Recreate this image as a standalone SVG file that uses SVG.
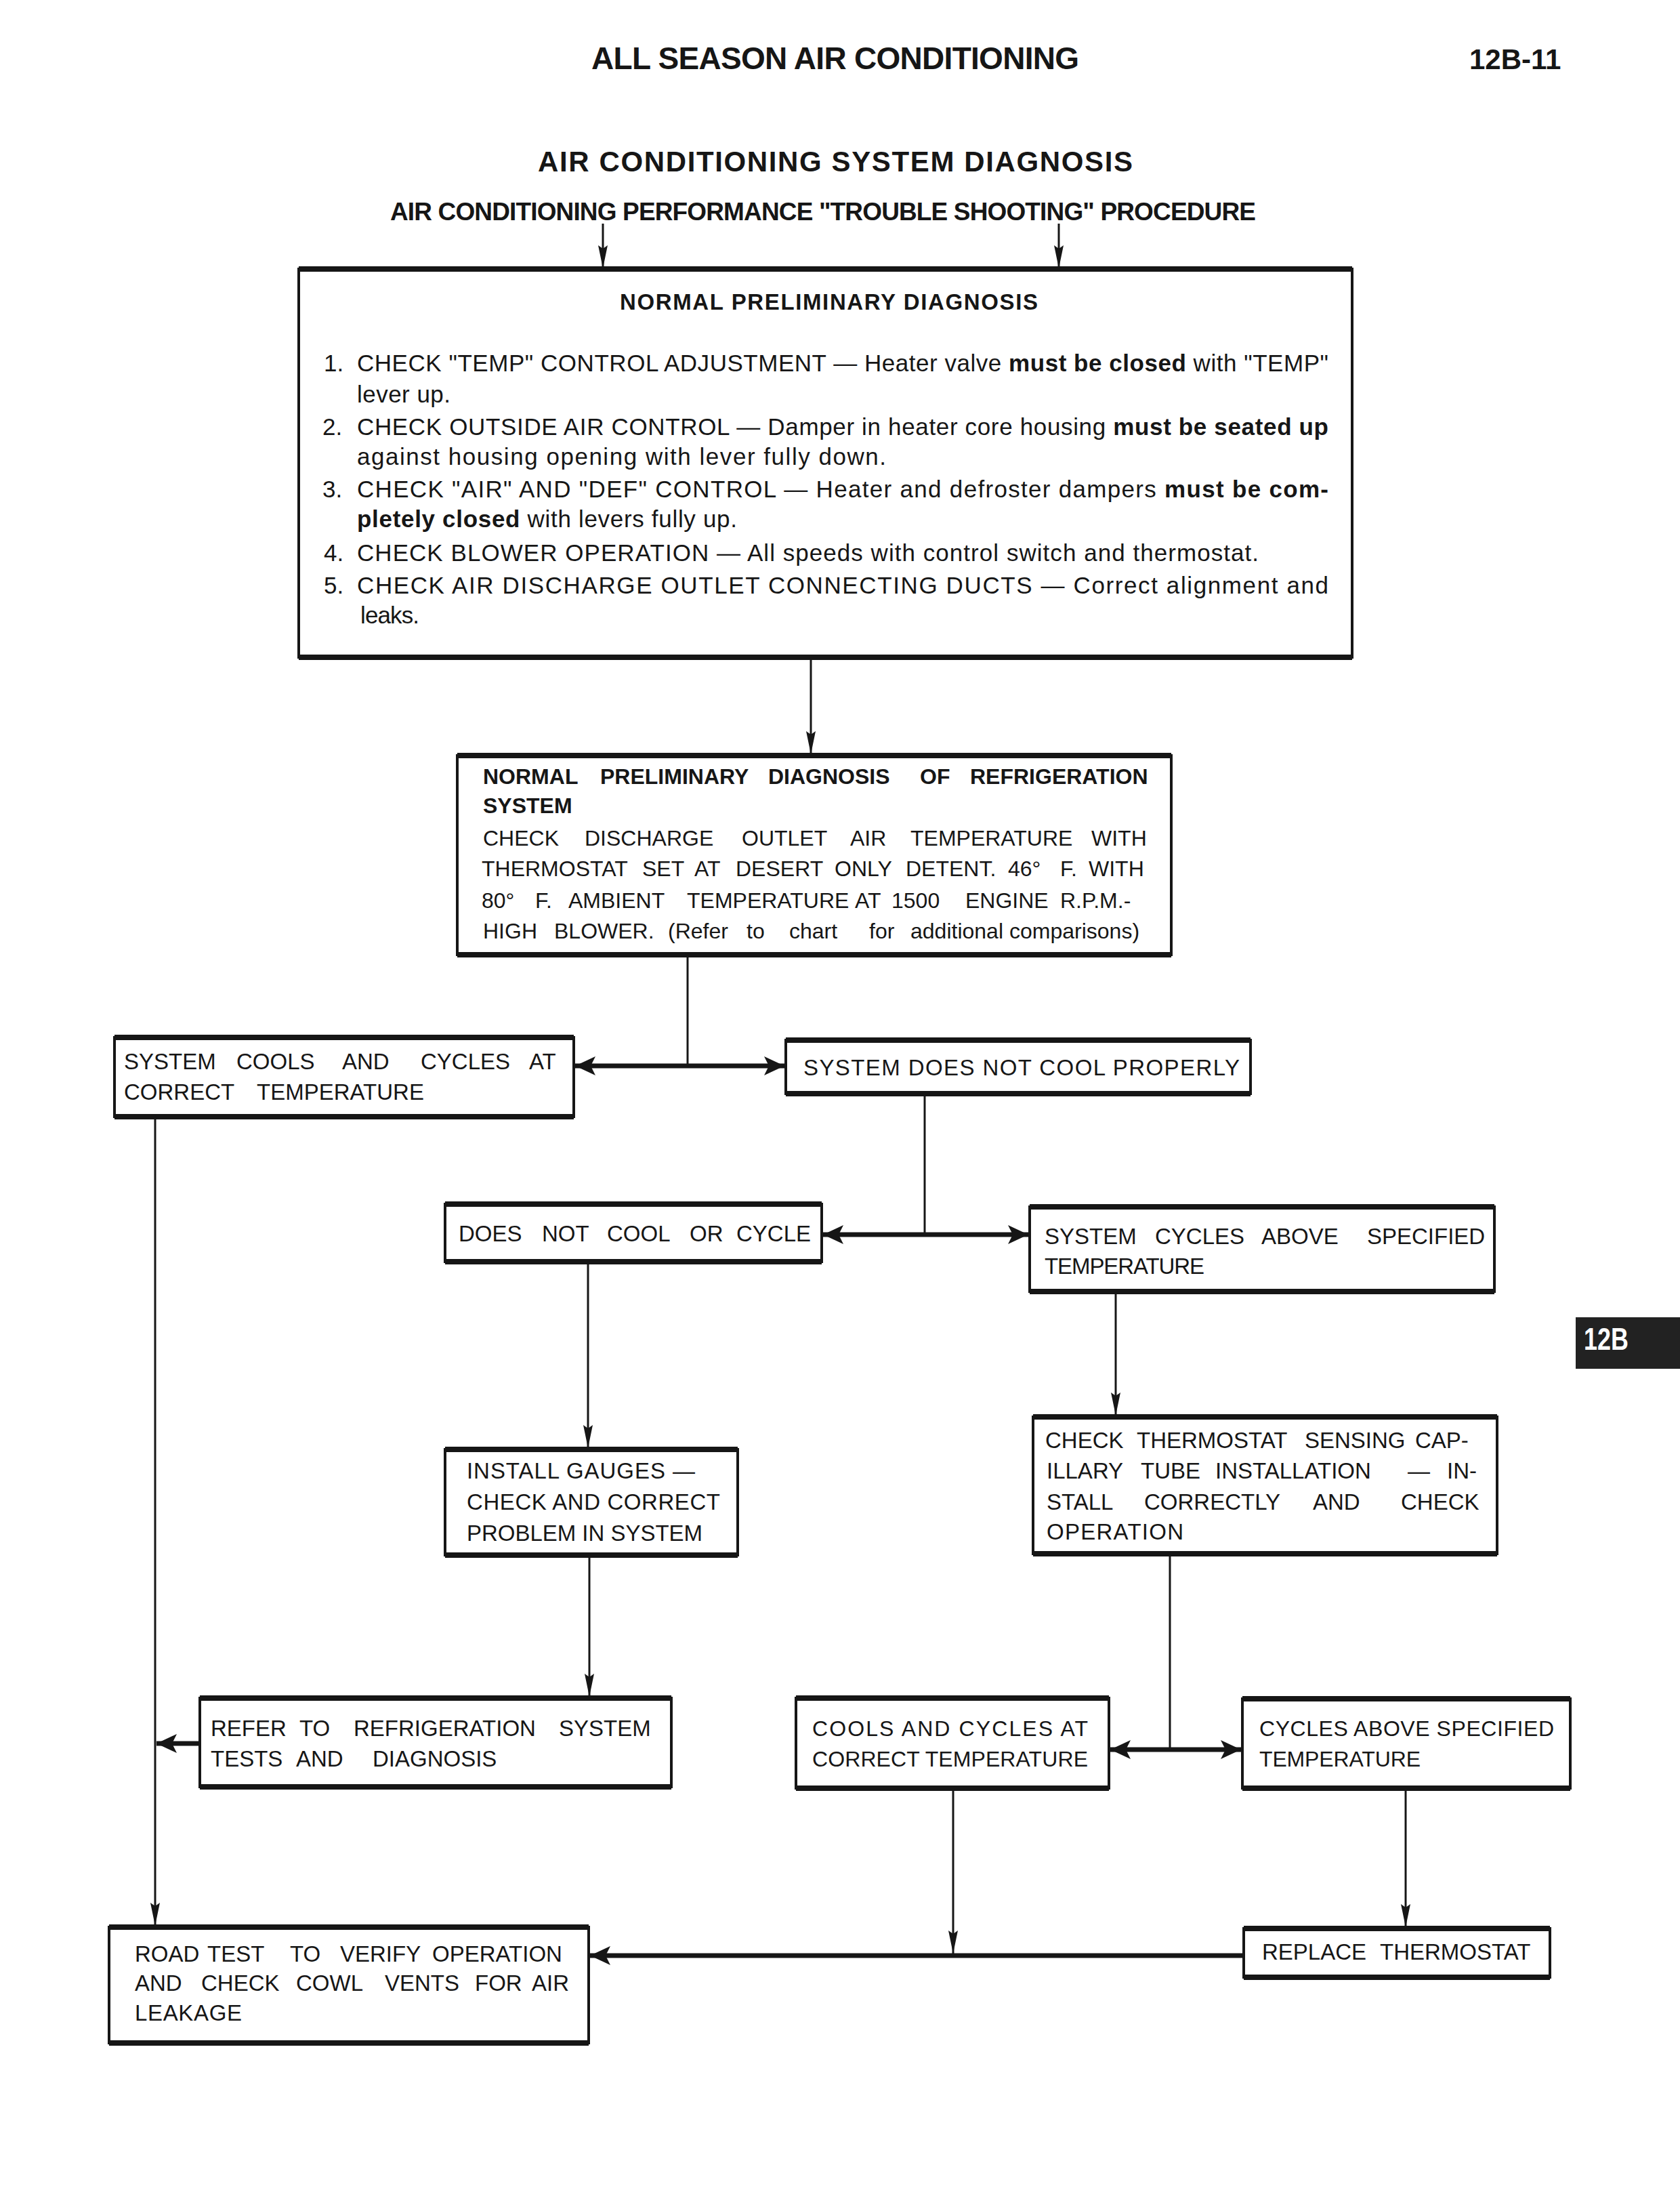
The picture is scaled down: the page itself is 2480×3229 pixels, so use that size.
<svg xmlns="http://www.w3.org/2000/svg" width="2480" height="3229" viewBox="0 0 2480 3229">
<style>
text{font-family:"Liberation Sans",Arial,sans-serif;fill:#161616}
.b{font-weight:bold}
.s35{font-size:35px}
.s32{font-size:32px}
.s33{font-size:33px}
.box{fill:#fff;stroke:#161616;stroke-width:4}
.tb{stroke:#161616;stroke-width:8;fill:none}
.c{stroke:#161616;stroke-width:3;fill:none}
.ct{stroke:#161616;stroke-width:7;fill:none}
</style>
<defs>
<marker id="at" markerUnits="userSpaceOnUse" viewBox="0 0 34 14" markerWidth="34" markerHeight="14" refX="34" refY="7" orient="auto-start-reverse"><path d="M0,0 L34,7 L0,14 L5,7 Z" fill="#161616"/></marker>
<marker id="ab" markerUnits="userSpaceOnUse" viewBox="0 0 30 28" markerWidth="30" markerHeight="28" refX="30" refY="14" orient="auto-start-reverse"><path d="M0,0 L30,14 L0,28 L7,14 Z" fill="#161616"/></marker>
</defs>
<rect width="2480" height="3229" fill="#fff"/>

<g id="header">
<text class="b" x="873" y="102" font-size="46" textLength="720">ALL SEASON AIR CONDITIONING</text>
<text class="b" x="2169" y="102" font-size="42">12B-11</text>
<text class="b" x="794" y="253" font-size="42" textLength="878">AIR CONDITIONING SYSTEM DIAGNOSIS</text>
<text class="b" x="576" y="325" font-size="37" textLength="1278">AIR CONDITIONING PERFORMANCE "TROUBLE SHOOTING" PROCEDURE</text>
</g>

<g id="tab">
<rect x="2326" y="1944" width="154" height="76" fill="#222"/>
<text class="b" font-size="46" transform="translate(2338,1992) scale(0.78,1)" style="fill:#fff">12B</text>
</g>

<g id="connectors">
<line class="c" x1="890" y1="330" x2="890" y2="396" marker-end="url(#at)"/>
<line class="c" x1="1563" y1="330" x2="1563" y2="396" marker-end="url(#at)"/>
<line class="c" x1="1197" y1="972" x2="1197" y2="1113" marker-end="url(#at)"/>
<line class="c" x1="1015" y1="1411" x2="1015" y2="1573"/>
<line class="ct" x1="849" y1="1573" x2="1158" y2="1573" marker-start="url(#ab)" marker-end="url(#ab)"/>
<line class="c" x1="1365" y1="1616" x2="1365" y2="1822"/>
<line class="ct" x1="1215" y1="1822" x2="1518" y2="1822" marker-start="url(#ab)" marker-end="url(#ab)"/>
<line class="c" x1="229" y1="1650" x2="229" y2="2842" marker-end="url(#at)"/>
<line class="c" x1="868" y1="1864" x2="868" y2="2137" marker-end="url(#at)"/>
<line class="c" x1="1647" y1="1908" x2="1647" y2="2089" marker-end="url(#at)"/>
<line class="c" x1="870" y1="2297" x2="870" y2="2504" marker-end="url(#at)"/>
<line class="ct" x1="293" y1="2573" x2="231" y2="2573" marker-end="url(#ab)"/>
<line class="c" x1="1727" y1="2295" x2="1727" y2="2582"/>
<line class="ct" x1="1639" y1="2582" x2="1832" y2="2582" marker-start="url(#ab)" marker-end="url(#ab)"/>
<line class="c" x1="1407" y1="2641" x2="1407" y2="2883" marker-end="url(#at)"/>
<line class="c" x1="2075" y1="2641" x2="2075" y2="2844" marker-end="url(#at)"/>
<line class="ct" x1="1834" y1="2886" x2="871" y2="2886" marker-end="url(#ab)"/>
</g>

<g id="n1">
<rect class="box" x="441" y="397" width="1555" height="573"/>
<path class="tb" d="M441,397 H1996 M441,970 H1996"/>
<text class="b" x="915" y="457" font-size="33" textLength="617">NORMAL PRELIMINARY DIAGNOSIS</text>
<text class="s35" x="478" y="548">1.</text>
<text class="s35" x="527" y="548" textLength="1434">CHECK "TEMP" CONTROL ADJUSTMENT — Heater valve <tspan class="b">must be closed</tspan> with "TEMP"</text>
<text class="s35" x="527" y="594" textLength="138">lever up.</text>
<text class="s35" x="476" y="642">2.</text>
<text class="s35" x="527" y="642" textLength="1434">CHECK OUTSIDE AIR CONTROL — Damper in heater core housing <tspan class="b">must be seated up</tspan></text>
<text class="s35" x="527" y="686" textLength="781">against housing opening with lever fully down.</text>
<text class="s35" x="476" y="734">3.</text>
<text class="s35" x="527" y="734" textLength="1434">CHECK "AIR" AND "DEF" CONTROL — Heater and defroster dampers <tspan class="b">must be com-</tspan></text>
<text class="s35" x="527" y="778" textLength="561"><tspan class="b">pletely closed</tspan> with levers fully up.</text>
<text class="s35" x="478" y="828">4.</text>
<text class="s35" x="527" y="828" textLength="1331">CHECK BLOWER OPERATION — All speeds with control switch and thermostat.</text>
<text class="s35" x="478" y="876">5.</text>
<text class="s35" x="527" y="876" textLength="1434">CHECK AIR DISCHARGE OUTLET CONNECTING DUCTS — Correct alignment and</text>
<text class="s35" x="532" y="920" textLength="87">leaks.</text>
</g>

<g id="n2">
<rect class="box" x="675" y="1115" width="1054" height="294"/>
<path class="tb" d="M675,1115 H1729 M675,1409 H1729"/>
<text class="s32 b" y="1157"><tspan x="713">NORMAL</tspan> <tspan x="886">PRELIMINARY</tspan> <tspan x="1134">DIAGNOSIS</tspan> <tspan x="1358">OF</tspan> <tspan x="1432">REFRIGERATION</tspan></text>
<text class="s32 b" x="713" y="1200">SYSTEM</text>
<text class="s32" y="1248"><tspan x="713">CHECK</tspan> <tspan x="863">DISCHARGE</tspan> <tspan x="1095">OUTLET</tspan> <tspan x="1255">AIR</tspan> <tspan x="1344">TEMPERATURE</tspan> <tspan x="1611">WITH</tspan></text>
<text class="s32" y="1293"><tspan x="711">THERMOSTAT</tspan> <tspan x="948">SET</tspan> <tspan x="1025">AT</tspan> <tspan x="1086">DESERT</tspan> <tspan x="1232">ONLY</tspan> <tspan x="1337">DETENT.</tspan> <tspan x="1488">46°</tspan> <tspan x="1565">F.</tspan> <tspan x="1607">WITH</tspan></text>
<text class="s32" y="1340"><tspan x="711">80°</tspan> <tspan x="790">F.</tspan> <tspan x="839">AMBIENT</tspan> <tspan x="1014">TEMPERATURE</tspan> <tspan x="1262">AT</tspan> <tspan x="1316">1500</tspan> <tspan x="1425">ENGINE</tspan> <tspan x="1565">R.P.M.-</tspan></text>
<text class="s32" y="1385"><tspan x="713">HIGH</tspan> <tspan x="818">BLOWER.</tspan> <tspan x="986">(Refer</tspan> <tspan x="1102">to</tspan> <tspan x="1165">chart</tspan> <tspan x="1283">for</tspan> <tspan x="1344">additional</tspan> <tspan x="1490">comparisons)</tspan></text>
</g>

<g id="n3">
<rect class="box" x="169" y="1531" width="678" height="117"/>
<path class="tb" d="M169,1531 H847 M169,1648 H847"/>
<text class="s33" y="1578"><tspan x="183">SYSTEM</tspan> <tspan x="349">COOLS</tspan> <tspan x="505">AND</tspan> <tspan x="621">CYCLES</tspan> <tspan x="781">AT</tspan></text>
<text class="s33" y="1623"><tspan x="183">CORRECT</tspan> <tspan x="379">TEMPERATURE</tspan></text>
</g>

<g id="n4">
<rect class="box" x="1160" y="1535" width="686" height="79"/>
<path class="tb" d="M1160,1535 H1846 M1160,1614 H1846"/>
<text class="s33" x="1186" y="1587" textLength="644">SYSTEM DOES NOT COOL PROPERLY</text>
</g>

<g id="n5">
<rect class="box" x="657" y="1777" width="556" height="85"/>
<path class="tb" d="M657,1777 H1213 M657,1862 H1213"/>
<text class="s33" y="1832"><tspan x="677">DOES</tspan> <tspan x="800">NOT</tspan> <tspan x="896">COOL</tspan> <tspan x="1018">OR</tspan> <tspan x="1087">CYCLE</tspan></text>
</g>

<g id="n6">
<rect class="box" x="1520" y="1781" width="686" height="125"/>
<path class="tb" d="M1520,1781 H2206 M1520,1906 H2206"/>
<text class="s33" y="1836"><tspan x="1542">SYSTEM</tspan> <tspan x="1705">CYCLES</tspan> <tspan x="1862">ABOVE</tspan> <tspan x="2018">SPECIFIED</tspan></text>
<text class="s33" x="1542" y="1880" textLength="236">TEMPERATURE</text>
</g>

<g id="n7">
<rect class="box" x="657" y="2139" width="432" height="156"/>
<path class="tb" d="M657,2139 H1089 M657,2295 H1089"/>
<text class="s33" x="689" y="2182" textLength="337">INSTALL GAUGES —</text>
<text class="s33" x="689" y="2228" textLength="374">CHECK AND CORRECT</text>
<text class="s33" x="689" y="2274" textLength="348">PROBLEM IN SYSTEM</text>
</g>

<g id="n8">
<rect class="box" x="1525" y="2091" width="685" height="202"/>
<path class="tb" d="M1525,2091 H2210 M1525,2293 H2210"/>
<text class="s33" y="2137"><tspan x="1543">CHECK</tspan> <tspan x="1678">THERMOSTAT</tspan> <tspan x="1926">SENSING</tspan> <tspan x="2089">CAP-</tspan></text>
<text class="s33" y="2182"><tspan x="1545">ILLARY</tspan> <tspan x="1684">TUBE</tspan> <tspan x="1794">INSTALLATION</tspan> <tspan x="2078">—</tspan> <tspan x="2136">IN-</tspan></text>
<text class="s33" y="2228"><tspan x="1545">STALL</tspan> <tspan x="1689">CORRECTLY</tspan> <tspan x="1938">AND</tspan> <tspan x="2068">CHECK</tspan></text>
<text class="s33" x="1545" y="2272" textLength="202">OPERATION</text>
</g>

<g id="n9">
<rect class="box" x="295" y="2506" width="696" height="131"/>
<path class="tb" d="M295,2506 H991 M295,2637 H991"/>
<text class="s33" y="2562"><tspan x="311">REFER</tspan> <tspan x="442">TO</tspan> <tspan x="522">REFRIGERATION</tspan> <tspan x="825">SYSTEM</tspan></text>
<text class="s33" y="2607"><tspan x="311">TESTS</tspan> <tspan x="437">AND</tspan> <tspan x="550">DIAGNOSIS</tspan></text>
</g>

<g id="n10">
<rect class="box" x="1175" y="2506" width="462" height="133"/>
<path class="tb" d="M1175,2506 H1637 M1175,2639 H1637"/>
<text class="s32" x="1199" y="2562" textLength="407">COOLS AND CYCLES AT</text>
<text class="s32" x="1199" y="2607" textLength="407">CORRECT TEMPERATURE</text>
</g>

<g id="n11">
<rect class="box" x="1834" y="2507" width="484" height="132"/>
<path class="tb" d="M1834,2507 H2318 M1834,2639 H2318"/>
<text class="s32" x="1859" y="2562" textLength="435">CYCLES ABOVE SPECIFIED</text>
<text class="s32" x="1859" y="2607" textLength="238">TEMPERATURE</text>
</g>

<g id="n12">
<rect class="box" x="161" y="2844" width="708" height="171"/>
<path class="tb" d="M161,2844 H869 M161,3015 H869"/>
<text class="s33" y="2895"><tspan x="199">ROAD</tspan> <tspan x="306">TEST</tspan> <tspan x="428">TO</tspan> <tspan x="502">VERIFY</tspan> <tspan x="638">OPERATION</tspan></text>
<text class="s33" y="2938"><tspan x="199">AND</tspan> <tspan x="297">CHECK</tspan> <tspan x="437">COWL</tspan> <tspan x="568">VENTS</tspan> <tspan x="701">FOR</tspan> <tspan x="785">AIR</tspan></text>
<text class="s33" x="199" y="2982" textLength="158">LEAKAGE</text>
</g>

<g id="n13">
<rect class="box" x="1836" y="2846" width="452" height="72"/>
<path class="tb" d="M1836,2846 H2288 M1836,2918 H2288"/>
<text class="s33" y="2892"><tspan x="1863">REPLACE</tspan> <tspan x="2037">THERMOSTAT</tspan></text>
</g>
</svg>
